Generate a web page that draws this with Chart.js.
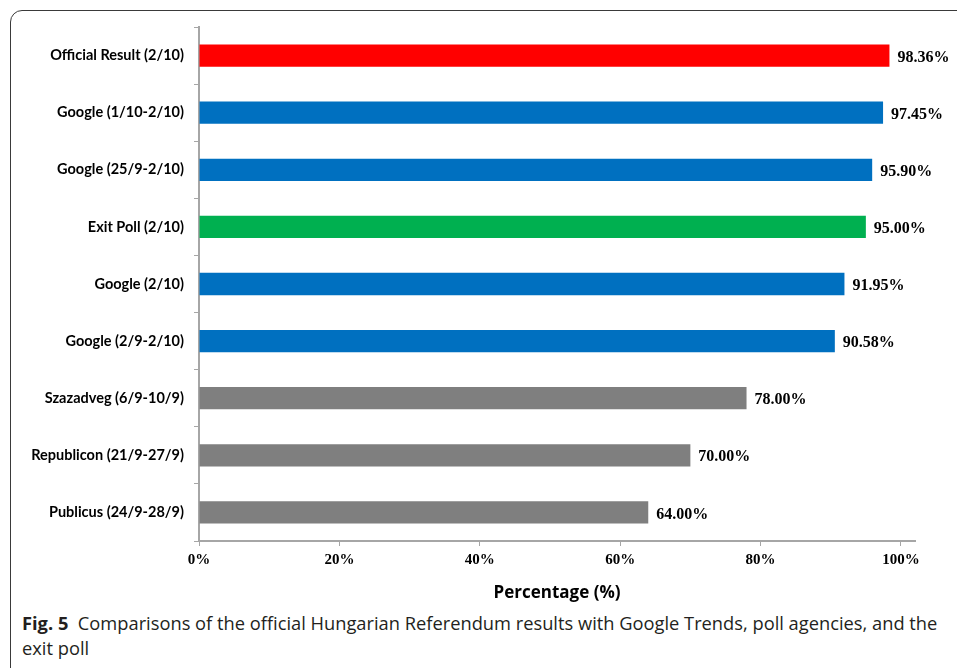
<!DOCTYPE html>
<html>
<head>
<meta charset="utf-8">
<script src="https://cdn.jsdelivr.net/npm/chart.js@4"></script>
<style>
html,body{margin:0;padding:0;background:#fff;width:957px;height:668px;overflow:hidden;}
#panel{position:absolute;left:10px;top:10px;width:970px;height:700px;border:1px solid #3a3a3a;border-top-left-radius:12px;}
#wrap{position:absolute;left:0;top:0;width:957px;height:603px;}
#caption{position:absolute;left:22px;top:610px;width:930px;font-family:"Open Sans",sans-serif;font-size:18.3px;line-height:25px;color:#231f20;letter-spacing:0;}
#caption b{font-weight:700;}
</style>
</head>
<body>
<div id="panel"></div>
<div id="wrap"><canvas id="c"></canvas></div>
<div id="caption"><b>Fig. 5</b>&nbsp; Comparisons of the official Hungarian Referendum results with Google Trends, poll agencies, and the exit poll</div>
<script>
const categories = ["Official Result (2/10)","Google (1/10-2/10)","Google (25/9-2/10)","Exit Poll (2/10)","Google (2/10)","Google (2/9-2/10)","Szazadveg (6/9-10/9)","Republicon (21/9-27/9)","Publicus (24/9-28/9)"];
const values = [98.36,97.45,95.90,95.00,91.95,90.58,78.00,70.00,64.00];
const barColors = ["#FF0000","#0070C0","#0070C0","#00B050","#0070C0","#0070C0","#7F7F7F","#7F7F7F","#7F7F7F"];
const xTicks = [0,20,40,60,80,100];

const valueLabels = {
  id:'valueLabels',
  afterDatasetsDraw(chart){
    const ctx = chart.ctx;
    const meta = chart.getDatasetMeta(0);
    ctx.save();
    ctx.font = 'bold 16px "Liberation Serif"';
    ctx.fillStyle = '#000';
    ctx.textAlign = 'left';
    ctx.textBaseline = 'middle';
    meta.data.forEach((bar,i)=>{
      ctx.fillText(values[i].toFixed(2)+'%', bar.x+8, bar.y+2);
    });
    ctx.restore();
  }
};

new Chart(document.getElementById('c'),{
  type:'bar',
  data:{labels:categories,datasets:[{data:values,backgroundColor:barColors,borderWidth:0,categoryPercentage:1,barPercentage:0.39}]},
  options:{
    indexAxis:'y',
    responsive:true,
    maintainAspectRatio:false,
    animation:false,
    layout:{padding:{top:27,right:42,left:0,bottom:0}},
    plugins:{legend:{display:false},tooltip:{enabled:false}},
    scales:{
      x:{
        min:0,max:102,
        afterBuildTicks(s){s.ticks = xTicks.map(v=>({value:v}));},
        afterFit(s){s.height = 62;},
        border:{color:'#a6a6a6',width:2},
        grid:{drawOnChartArea:false,drawTicks:true,tickLength:5,color:'#a6a6a6',lineWidth:1},
        ticks:{callback:v=>v+'%',color:'#000',font:{family:'"Liberation Serif"',size:15,weight:'bold'},padding:5,maxRotation:0},
        title:{display:true,text:'Percentage (%)',color:'#000',font:{family:'"Open Sans"',size:17,weight:'bold'},padding:{top:6,bottom:0}}
      },
      y:{
        afterFit(s){s.width = 199;},
        border:{color:'#a6a6a6',width:2},
        grid:{offset:true,drawOnChartArea:false,drawTicks:true,tickLength:5,color:'#a6a6a6',lineWidth:1},
        ticks:{color:'#000',font:{family:'Lato',size:14.5,weight:'bold'},padding:10}
      }
    }
  },
  plugins:[valueLabels]
});
</script>
</body>
</html>
